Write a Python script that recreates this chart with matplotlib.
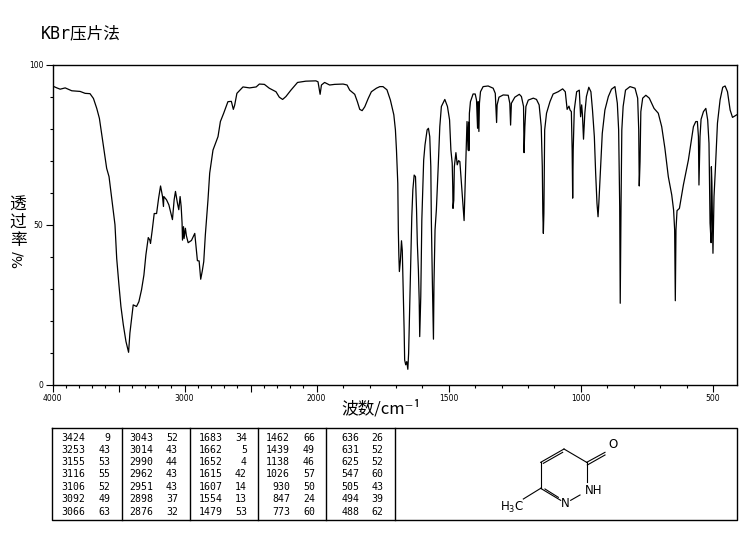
import numpy as np
import matplotlib
matplotlib.use('Agg')
import matplotlib.pyplot as plt

plt.rcParams['font.family'] = ['Noto Sans CJK SC', 'DejaVu Sans']

# Espectro
wavenumber = [
    4000, 3967, 3942, 3904, 3854, 3791, 3753, 3716, 3690, 3665, 3645, 3628, 3610, 3590, 3572, 3552, 3535,
    3527, 3514, 3497, 3482, 3464, 3444, 3424, 3414, 3401, 3389, 3364, 3346, 3326, 3308, 3293, 3275, 3263,
    3258, 3245, 3230, 3212, 3197, 3182, 3167, 3160, 3157, 3137, 3119, 3104, 3092, 3079, 3069, 3054, 3044,
    3034, 3026, 3019, 3016, 3008, 3004, 2994, 2986, 2973, 2948, 2923, 2911, 2903, 2890, 2878, 2866, 2855,
    2843, 2823, 2810, 2785, 2747, 2729, 2704, 2672, 2646, 2631, 2621, 2604, 2558, 2508, 2458, 2434, 2396,
    2359, 2308, 2283, 2258, 2233, 2195, 2145, 2082, 2006, 1995, 1991, 1987, 1982, 1970, 1951, 1932, 1900,
    1885, 1875, 1856, 1846, 1837, 1828, 1818, 1805, 1793, 1774, 1761, 1749, 1734, 1721, 1708, 1702, 1698,
    1693, 1691, 1689, 1687, 1683, 1679, 1676, 1673, 1669, 1667, 1663, 1659, 1655, 1652, 1648, 1644, 1640,
    1636, 1631, 1626, 1622, 1619, 1615, 1612, 1610, 1606, 1602, 1600, 1595, 1590, 1582, 1577, 1572, 1568,
    1566, 1562, 1558, 1556, 1552, 1547, 1540, 1534, 1528, 1515, 1505, 1497, 1492, 1487, 1485, 1484, 1481,
    1479, 1473, 1468, 1463, 1458, 1452, 1446, 1442, 1439, 1436, 1431, 1427, 1425, 1424, 1422, 1418, 1408,
    1400, 1395, 1391, 1389, 1386, 1384, 1380, 1370, 1351, 1332, 1324, 1319, 1317, 1310, 1294, 1275, 1269,
    1266, 1263, 1250, 1233, 1225, 1217, 1215, 1212, 1208, 1199, 1180, 1168, 1158, 1150, 1146, 1144, 1142,
    1140, 1137, 1130, 1117, 1105, 1086, 1069, 1059, 1052, 1045, 1041, 1036, 1033, 1031, 1029, 1025, 1016,
    1006, 1001, 997, 994, 990, 985, 979, 970, 962, 956, 949, 944, 939, 935, 932, 925, 919, 909, 896, 884,
    871, 862, 857, 853, 851, 848, 845, 840, 831, 814, 795, 785, 781, 779, 776, 773, 766, 754, 741, 723,
    707, 694, 682, 669, 656, 649, 645, 642.5, 640, 636, 627, 612, 593, 574, 565, 559, 555, 553, 549, 545,
    536, 527, 520, 515, 511, 507, 506, 504, 500, 496, 491, 483, 473, 463, 454, 445, 435, 426, 416, 410,
]
transmittance = [
    93.3, 92.7, 92.3, 92.7, 91.8, 91.6, 91.0, 90.9, 89.4, 86.3, 83.2, 78.5, 73.3, 67.6, 65.0, 58.3, 52.6,
    50.0, 39.5, 31.2, 24.5, 18.8, 13.6, 10.2, 16.2, 20.9, 25.0, 24.5, 26.0, 29.7, 34.3, 40.6, 46.0, 45.2,
    44.2, 48.3, 53.5, 53.5, 58.2, 62.1, 58.8, 55.7, 58.8, 57.8, 56.2, 53.6, 51.6, 57.8, 60.4, 56.7, 54.7,
    58.8, 55.7, 50.5, 45.2, 49.4, 45.7, 48.9, 46.5, 44.4, 45.1, 47.3, 42.1, 38.8, 38.7, 33.0, 35.6, 38.5,
    46.8, 57.7, 66.1, 73.3, 77.5, 82.2, 84.8, 88.4, 88.5, 86.0, 87.3, 91.0, 93.0, 92.7, 93.0, 93.9, 93.8,
    92.6, 91.5, 89.8, 89.1, 90.0, 92.0, 94.4, 94.8, 94.9, 94.6, 92.6, 90.7, 93.6, 94.4, 93.6, 93.8, 93.9,
    93.6, 92.0, 90.7, 88.4, 86.0, 85.6, 86.8, 89.4, 91.5, 92.6, 93.1, 93.1, 92.1, 88.9, 84.3, 79.6, 73.3,
    62.9, 48.4, 40.6, 35.4, 39.0, 45.0, 42.0, 31.7, 17.2, 7.8, 6.3, 7.3, 4.9, 9.9, 24.5, 38.5, 52.5,
    60.9, 65.5, 65.0, 54.6, 44.2, 35.9, 26.5, 15.1, 27.6, 51.5, 56.7, 70.2, 74.9, 79.6, 80.1, 77.5, 68.1,
    51.5, 31.7, 14.3, 31.7, 48.4, 54.6, 68.1, 80.6, 86.9, 89.1, 86.9, 82.7, 73.3, 69.2, 61.9, 55.1, 57.7,
    68.1, 72.5, 68.7, 70.0, 69.7, 62.9, 55.7, 51.3, 59.8, 68.1, 82.2, 73.3, 82.0, 73.1, 84.8, 88.4, 90.8,
    90.8, 88.9, 80.1, 88.4, 79.1, 87.9, 91.5, 93.1, 93.3, 92.6, 91.0, 81.9, 87.4, 89.8, 90.5, 90.4, 87.9,
    81.1, 87.9, 89.8, 90.7, 90.0, 86.9, 72.5, 80.6, 86.9, 88.9, 89.5, 89.1, 87.4, 80.6, 68.1, 53.6, 47.3,
    53.6, 79.6, 84.8, 88.4, 90.8, 91.5, 92.4, 91.5, 86.0, 87.0, 85.8, 85.3, 73.3, 58.3, 73.3, 85.8, 91.5,
    92.0, 83.7, 87.4, 84.3, 76.7, 84.8, 90.0, 92.9, 91.5, 85.8, 77.5, 66.0, 56.7, 52.5, 56.7, 68.1, 78.5, 85.8, 90.0, 92.3,
    93.1, 87.9, 79.6, 55.7, 25.5, 55.7, 79.6, 86.9, 92.0, 93.1, 92.6, 89.5, 79.6, 62.1, 69.7, 85.3, 89.5, 90.4, 89.5, 86.3,
    84.8, 80.6, 73.9, 65.0, 59.3, 54.6, 48.4, 26.3, 48.4, 54.4, 55.1, 62.4, 70.2, 80.6, 82.2, 82.2, 77.5, 62.4, 77.5, 82.9,
    85.3, 86.3, 82.7, 75.4, 50.5, 44.4, 68.1, 63.0, 41.1, 58.8, 67.1, 81.7, 89.0, 92.9, 93.3, 91.5, 85.8, 83.5, 84.0, 84.3,
]

x_major = [4000, 3500, 3000, 2500, 2000, 1500, 1000, 500]
x_labels = ['4000', '', '3000', '', '2000', '1500', '1000', '500']
y_major = [0, 50, 100]

# Tabla de picos, columna por columna
peak_wn = [
    ['3424', '3253', '3155', '3116', '3106', '3092', '3066'],
    ['3043', '3014', '2990', '2962', '2951', '2898', '2876'],
    ['1683', '1662', '1652', '1615', '1607', '1554', '1479'],
    ['1462', '1439', '1138', '1026', '930', '847', '773'],
    ['636', '631', '625', '547', '505', '494', '488'],
]
peak_t = [
    ['9', '43', '53', '55', '52', '49', '63'],
    ['52', '43', '44', '43', '43', '37', '32'],
    ['34', '5', '4', '42', '14', '13', '53'],
    ['66', '49', '46', '57', '50', '24', '60'],
    ['26', '52', '52', '60', '43', '39', '62'],
]

W, H = 746, 539
fig = plt.figure(figsize=(W / 100, H / 100), dpi=100)

# Capa en pixeles para tabla, estructura y textos
over = fig.add_axes([0, 0, 1, 1])
over.set_xlim(0, W)
over.set_ylim(H, 0)
over.axis('off')

ax = fig.add_axes([52.5 / W, (H - 385) / H, (737 - 52.5) / W, (385 - 64.5) / H])


# Eje x comprimido a la mitad por encima de 2000
def forward(x):
    x = np.asarray(x, dtype=float)
    return np.where(x > 2000, x / 2 + 1000, x)


def inverse(u):
    u = np.asarray(u, dtype=float)
    return np.where(u > 2000, (u - 1000) * 2, u)


ax.plot(wavenumber, transmittance, color='k', lw=0.9)
ax.set_xscale('function', functions=(forward, inverse))
ax.set_xlim(4000, 409)
ax.set_ylim(0, 100)
ax.set_xticks(x_major)
ax.set_xticklabels(x_labels, family='DejaVu Sans', fontsize=5.5)
ax.set_xticks(np.arange(500, 4000, 100), minor=True)
ax.set_yticks(y_major)
ax.set_yticklabels(['0', '50', '100'], family='DejaVu Sans', fontsize=5.5)
ax.set_yticks(np.arange(0, 100, 10), minor=True)
ax.tick_params(which='major', length=5, width=0.8, pad=1.5)
ax.tick_params(which='minor', length=2, width=0.8)
for s in ax.spines.values():
    s.set_linewidth(1.0)

over.text(41, 33.5, 'KBr压片法', fontsize=12, va='center', ha='left',
          family=['DejaVu Sans Mono', 'Noto Sans CJK SC'])
over.text(381, 409, '波数/cm⁻¹', fontsize=12, va='center', ha='center')

# Etiqueta y: caracteres apilados
for ch, yc in zip('透过率', [205, 222, 240]):
    over.text(18, yc, ch, fontsize=12, va='center', ha='center')
over.text(18, 259, '%/', fontsize=10, va='center', ha='center', rotation=90,
          family='DejaVu Sans')

# Caja de la tabla
over.plot([52, 737, 737, 52, 52], [428, 428, 520, 520, 428], color='k', lw=1)
for xd in [121.5, 189.5, 258, 326, 395]:
    over.plot([xd, xd], [428, 520], color='k', lw=1)

col_right_wn = [85, 153, 222.7, 290, 359.3]
col_right_t = [110.7, 178, 247, 315, 383.3]
row_y = [437.7, 450, 462.3, 474.3, 487, 499, 511.7]
for c in range(5):
    for r in range(7):
        over.text(col_right_wn[c], row_y[r], peak_wn[c][r], ha='right', va='center',
                  family='DejaVu Sans Mono', fontsize=7.1)
        over.text(col_right_t[c], row_y[r], peak_t[c][r], ha='right', va='center',
                  family='DejaVu Sans Mono', fontsize=7.1)

# Estructura (coordenadas del recorte x3)
bonds = [
    (182, 190, 182, 112), (182, 112, 252, 72), (252, 72, 320, 112), (320, 112, 320, 170),
    (300, 210, 272, 226), (242, 226, 182, 190), (190, 115, 248, 82), (195, 192, 235, 217),
    (320, 112, 375, 82), (322, 120, 375, 90), (182, 190, 130, 222),
]
for x0, y0, x1, y1 in bonds:
    over.plot([480 + x0 / 3, 480 + x1 / 3], [425 + y0 / 3, 425 + y1 / 3], color='k', lw=0.8)
mol_font = dict(fontsize=8.5, ha='center', va='center', family='DejaVu Sans')
over.text(480 + 398 / 3, 425 + 57 / 3, 'O', **mol_font)
over.text(480 + 342 / 3, 425 + 195 / 3, 'NH', **mol_font)
over.text(480 + 257 / 3, 425 + 235 / 3, 'N', **mol_font)
over.text(480 + 95 / 3, 425 + 247 / 3, 'H$_3$C', **mol_font)

fig.savefig('out.png', dpi=100)
